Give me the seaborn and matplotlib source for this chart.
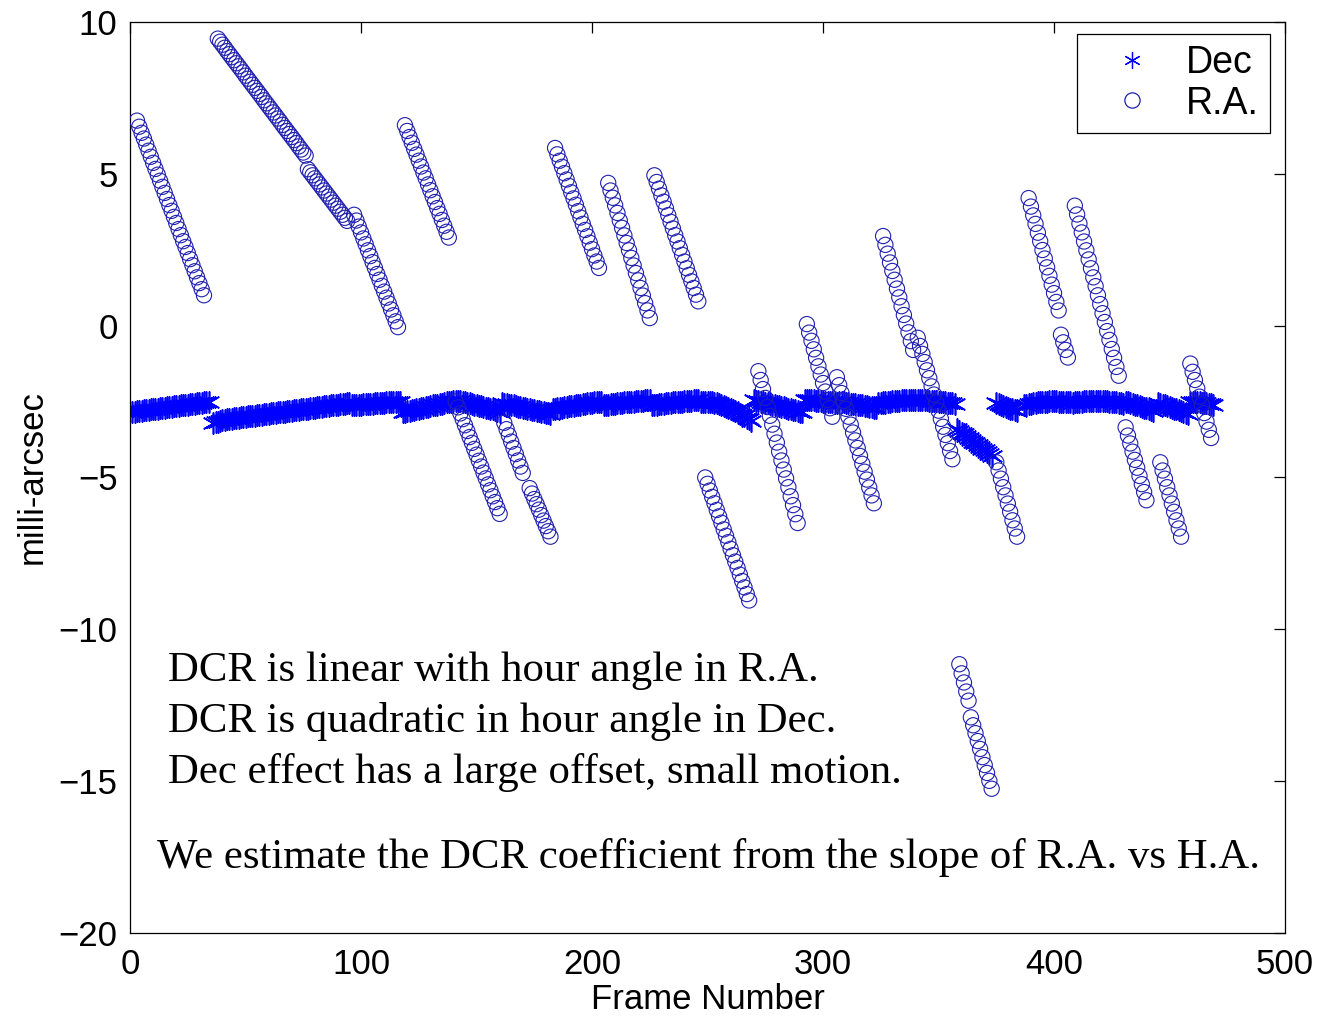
import matplotlib
matplotlib.use("Agg")
import matplotlib.pyplot as plt
from matplotlib.lines import Line2D
import seaborn as sns
import pandas as pd

# ---------------- data ----------------
# R.A. runs: first frame number of each run and the values of consecutive frames
ra_starts = [3, 38, 77, 97, 119, 141, 162, 173, 184, 207, 227, 249,
             272, 293, 306, 326, 341, 359, 364, 375, 389, 403, 409, 431, 446, 459]
ra_runs = [
    [6.75, 6.55, 6.35, 6.16, 5.96, 5.76, 5.56, 5.36, 5.16, 4.97, 4.77, 4.57, 4.37, 4.17, 3.97,
     3.78, 3.58, 3.38, 3.18, 2.98, 2.78, 2.59, 2.39, 2.19, 1.99, 1.79, 1.59, 1.40, 1.20, 1.00],
    [9.45, 9.35, 9.25, 9.15, 9.04, 8.94, 8.84, 8.74, 8.64, 8.54, 8.44, 8.34, 8.23, 8.13, 8.03,
     7.93, 7.83, 7.73, 7.63, 7.53, 7.42, 7.32, 7.22, 7.12, 7.02, 6.92, 6.82, 6.72, 6.61, 6.51,
     6.41, 6.31, 6.21, 6.11, 6.01, 5.90, 5.80, 5.70, 5.60],
    [5.15, 5.05, 4.95, 4.85, 4.75, 4.65, 4.55, 4.45, 4.35, 4.25, 4.15, 4.05, 3.95, 3.85, 3.75,
     3.65, 3.55, 3.45],
    [3.65, 3.46, 3.26, 3.07, 2.87, 2.68, 2.48, 2.29, 2.09, 1.90, 1.70, 1.51, 1.31, 1.12, 0.92,
     0.73, 0.53, 0.34, 0.14, -0.05],
    [6.60, 6.41, 6.21, 6.02, 5.82, 5.63, 5.43, 5.24, 5.04, 4.85, 4.65, 4.46, 4.26, 4.07, 3.87,
     3.68, 3.48, 3.29, 3.09, 2.90],
    [-2.50, -2.69, -2.89, -3.08, -3.28, -3.47, -3.67, -3.86, -4.06, -4.25, -4.45, -4.64, -4.84,
     -5.03, -5.23, -5.42, -5.62, -5.81, -6.01, -6.20],
    [-3.20, -3.41, -3.61, -3.82, -4.03, -4.23, -4.44, -4.64, -4.85],
    [-5.35, -5.53, -5.71, -5.88, -6.06, -6.24, -6.42, -6.60, -6.77, -6.95],
    [5.85, 5.64, 5.43, 5.23, 5.02, 4.81, 4.60, 4.39, 4.19, 3.98, 3.77, 3.56, 3.35, 3.15, 2.94,
     2.73, 2.52, 2.31, 2.11, 1.90],
    [4.70, 4.45, 4.21, 3.96, 3.71, 3.46, 3.22, 2.97, 2.72, 2.48, 2.23, 1.98, 1.73, 1.49, 1.24,
     0.99, 0.74, 0.50, 0.25],
    [4.95, 4.73, 4.51, 4.29, 4.08, 3.86, 3.64, 3.42, 3.20, 2.98, 2.77, 2.55, 2.33, 2.11, 1.89,
     1.67, 1.46, 1.24, 1.02, 0.80],
    [-5.00, -5.21, -5.43, -5.64, -5.85, -6.07, -6.28, -6.49, -6.71, -6.92, -7.13, -7.35, -7.56,
     -7.77, -7.98, -8.20, -8.41, -8.62, -8.84, -9.05],
    [-1.50, -1.79, -2.09, -2.38, -2.68, -2.97, -3.26, -3.56, -3.85, -4.15, -4.44, -4.74, -5.03,
     -5.32, -5.62, -5.91, -6.21, -6.50],
    [0.05, -0.23, -0.50, -0.78, -1.06, -1.34, -1.61, -1.89, -2.17, -2.45, -2.72, -3.00],
    [-1.70, -1.96, -2.22, -2.48, -2.74, -3.00, -3.26, -3.52, -3.78, -4.03, -4.29, -4.55, -4.81,
     -5.07, -5.33, -5.59, -5.85],
    [2.95, 2.66, 2.37, 2.08, 1.80, 1.51, 1.22, 0.93, 0.64, 0.35, 0.07, -0.22, -0.51, -0.80],
    [-0.40, -0.67, -0.93, -1.20, -1.47, -1.73, -2.00, -2.27, -2.53, -2.80, -3.07, -3.33, -3.60,
     -3.87, -4.13, -4.40],
    [-11.15, -11.45, -11.75, -12.05, -12.35],
    [-12.90, -13.16, -13.42, -13.68, -13.94, -14.21, -14.47, -14.73, -14.99, -15.25],
    [-4.50, -4.77, -5.04, -5.32, -5.59, -5.86, -6.13, -6.41, -6.68, -6.95],
    [4.20, 3.92, 3.63, 3.35, 3.06, 2.78, 2.49, 2.21, 1.92, 1.64, 1.35, 1.07, 0.78, 0.50],
    [-0.30, -0.55, -0.80, -1.05],
    [3.95, 3.66, 3.36, 3.07, 2.77, 2.48, 2.18, 1.89, 1.59, 1.30, 1.00, 0.71, 0.41, 0.12, -0.18,
     -0.47, -0.77, -1.06, -1.36, -1.65],
    [-3.35, -3.62, -3.88, -4.15, -4.42, -4.68, -4.95, -5.22, -5.48, -5.75],
    [-4.50, -4.77, -5.04, -5.32, -5.59, -5.86, -6.13, -6.41, -6.68, -6.95],
    [-1.25, -1.52, -1.79, -2.07, -2.34, -2.61, -2.88, -3.16, -3.43, -3.70],
]

# Dec runs
dec_starts = [1, 36, 96, 118, 140, 161, 183, 205, 226, 247, 270, 292, 307, 324, 341,
              358, 375, 387, 408, 431, 445, 459]
dec_runs = [
    [-2.85, -2.83, -2.82, -2.81, -2.80, -2.79, -2.78, -2.77, -2.76, -2.75, -2.74, -2.73, -2.72,
     -2.71, -2.70, -2.69, -2.68, -2.67, -2.66, -2.65, -2.64, -2.63, -2.62, -2.61, -2.60, -2.59,
     -2.58, -2.57, -2.56, -2.55, -2.54, -2.53, -2.52, -2.51],
    [-3.20, -3.18, -3.16, -3.14, -3.12, -3.10, -3.08, -3.07, -3.06, -3.05,
     -3.04, -3.03, -3.02, -3.01, -3.00, -2.99, -2.98, -2.97, -2.96, -2.95, -2.94, -2.93,
     -2.92, -2.91, -2.90, -2.89, -2.88, -2.87, -2.86, -2.85, -2.84, -2.83, -2.82, -2.81,
     -2.80, -2.79, -2.78, -2.77, -2.76, -2.75, -2.74, -2.73, -2.72, -2.71, -2.70, -2.69,
     -2.68, -2.67, -2.66, -2.65, -2.64, -2.63, -2.62, -2.61, -2.60, -2.59, -2.58, -2.57,
     -2.56, -2.55],
    [-2.62, -2.61, -2.61, -2.60, -2.60, -2.59, -2.58, -2.58, -2.57, -2.57, -2.56, -2.55, -2.55,
     -2.54, -2.54, -2.53, -2.52, -2.52, -2.51, -2.51, -2.50, -2.50],
    [-2.85, -2.83, -2.82, -2.80, -2.78, -2.77, -2.75, -2.73, -2.72, -2.70, -2.68, -2.67, -2.65,
     -2.63, -2.62, -2.60, -2.58, -2.57, -2.55, -2.53, -2.52, -2.50],
    [-2.48, -2.47, -2.47, -2.48, -2.50, -2.52, -2.54, -2.56, -2.58, -2.60, -2.62, -2.64, -2.66,
     -2.68, -2.70, -2.72, -2.74, -2.76, -2.79, -2.82, -2.85],
    [-2.55, -2.57, -2.58, -2.60, -2.62, -2.63, -2.65, -2.67, -2.68, -2.70, -2.72, -2.73, -2.75,
     -2.77, -2.78, -2.80, -2.82, -2.83, -2.85, -2.87, -2.88, -2.90],
    [-2.75, -2.74, -2.72, -2.71, -2.70, -2.69, -2.67, -2.66, -2.65, -2.64, -2.62, -2.61, -2.60,
     -2.59, -2.57, -2.56, -2.55, -2.54, -2.53, -2.52, -2.51, -2.50],
    [-2.62, -2.61, -2.60, -2.59, -2.58, -2.57, -2.56, -2.55, -2.54, -2.53, -2.53, -2.52, -2.51,
     -2.50, -2.49, -2.49, -2.48, -2.47, -2.46, -2.46, -2.45],
    [-2.62, -2.61, -2.60, -2.59, -2.58, -2.57, -2.56, -2.55, -2.54, -2.53, -2.52, -2.51, -2.50,
     -2.50, -2.49, -2.48, -2.47, -2.47, -2.46, -2.46, -2.45],
    [-2.52, -2.51, -2.50, -2.50, -2.51, -2.52, -2.54, -2.56, -2.58, -2.61, -2.64, -2.67, -2.70,
     -2.74, -2.78, -2.82, -2.86, -2.90, -2.94, -2.98, -3.03, -3.08, -3.13],
    [-2.45, -2.47, -2.48, -2.50, -2.52, -2.54, -2.56, -2.58, -2.60, -2.62, -2.64, -2.65, -2.67,
     -2.69, -2.71, -2.73, -2.75, -2.77, -2.79, -2.81, -2.83, -2.85],
    [-2.45, -2.45, -2.45, -2.46, -2.46, -2.47, -2.48, -2.49, -2.50, -2.51, -2.52, -2.52, -2.53,
     -2.54, -2.55],
    [-2.50, -2.51, -2.53, -2.54, -2.55, -2.57, -2.58, -2.59, -2.61, -2.62, -2.63, -2.65, -2.66,
     -2.67, -2.69, -2.70, -2.72],
    [-2.55, -2.54, -2.53, -2.52, -2.51, -2.50, -2.49, -2.48, -2.47, -2.47, -2.46, -2.46, -2.45,
     -2.45, -2.45, -2.45, -2.46],
    [-2.45, -2.45, -2.45, -2.46, -2.46, -2.47, -2.47, -2.48, -2.49, -2.50, -2.51, -2.52, -2.53,
     -2.54, -2.55, -2.56, -2.57],
    [-3.40, -3.46, -3.52, -3.58, -3.64, -3.70, -3.76, -3.82, -3.88, -3.93, -3.99, -4.05, -4.11,
     -4.17, -4.23, -4.29],
    [-2.55, -2.58, -2.61, -2.64, -2.67, -2.70, -2.73, -2.76, -2.79, -2.82],
    [-2.62, -2.60, -2.58, -2.57, -2.55, -2.54, -2.53, -2.52, -2.51, -2.50, -2.50, -2.49, -2.49,
     -2.49, -2.49, -2.50, -2.50, -2.51, -2.51, -2.52, -2.53],
    [-2.55, -2.53, -2.52, -2.51, -2.50, -2.49, -2.48, -2.48, -2.47, -2.47, -2.47, -2.47, -2.47,
     -2.48, -2.48, -2.49, -2.50, -2.51, -2.52, -2.53, -2.54, -2.56, -2.58],
    [-2.50, -2.52, -2.55, -2.57, -2.60, -2.62, -2.65, -2.67, -2.70, -2.72, -2.75, -2.77, -2.80],
    [-2.55, -2.58, -2.60, -2.63, -2.66, -2.68, -2.71, -2.74, -2.76, -2.79, -2.82, -2.84, -2.87,
     -2.90],
    [-2.50, -2.50, -2.51, -2.52, -2.53, -2.54, -2.55, -2.56, -2.57, -2.58, -2.60],
]

x_ticks = [0, 100, 200, 300, 400, 500]
y_ticks = [-20, -15, -10, -5, 0, 5, 10]
notes = ["DCR is linear with hour angle in R.A.",
         "DCR is quadratic in hour angle in Dec.",
         "Dec effect has a large offset, small motion."]
conclusion = "We estimate the DCR coefficient from the slope of R.A. vs H.A."


def to_frame(starts, runs):
    fr, vals = [], []
    for s, run in zip(starts, runs):
        for i, v in enumerate(run):
            fr.append(s + i)
            vals.append(v)
    return pd.DataFrame({"frame": fr, "value": vals})


dec_df = to_frame(dec_starts, dec_runs)
ra_df = to_frame(ra_starts, ra_runs)

# ---------------- style ----------------
sns.set_style("white")
plt.rcParams["font.family"] = ["Liberation Sans", "DejaVu Sans"]
plt.rcParams["axes.unicode_minus"] = True
plt.rcParams["text.color"] = "black"
plt.rcParams["axes.labelcolor"] = "black"
plt.rcParams["xtick.color"] = "black"
plt.rcParams["ytick.color"] = "black"

fig = plt.figure(figsize=(13.23, 10.21), dpi=100)
ax = fig.add_axes([0.0983, 0.0862, 0.873, 0.8923])

blue = "#0000ff"
circ_blue = "#2020b0"
star = (6, 2, 0)

sns.scatterplot(data=dec_df, x="frame", y="value", ax=ax, marker=star,
                s=230, color=blue, linewidth=1.2, legend=False, zorder=2)
sns.scatterplot(data=ra_df, x="frame", y="value", ax=ax, marker="o",
                s=120, facecolor="none", edgecolor=circ_blue, color=circ_blue,
                linewidth=0.8, legend=False, zorder=3)

ax.set_xlim(0, 500)
ax.set_ylim(-20, 10)
ax.set_xticks(x_ticks)
ax.set_yticks(y_ticks)
ax.tick_params(direction="in", length=8, width=0.9, top=True, right=True,
               labelsize=25, colors="black", labelcolor="black")
ax.tick_params(axis="x", pad=11)
ax.tick_params(axis="y", pad=9)
for sp in ax.spines.values():
    sp.set_visible(True)
    sp.set_color("black")
    sp.set_linewidth(0.9)
ax.set_xlabel("Frame Number", fontsize=25, labelpad=1, color="black")
ax.set_ylabel("milli-arcsec", fontsize=25, labelpad=7, color="black")

for i, t in enumerate(notes):
    ax.text(16.5, -11.35 - 1.69 * i, t, fontsize=30.8, family="Liberation Serif",
            ha="left", va="center", color="black")
ax.text(11.7, -17.5, conclusion, fontsize=30.8, family="Liberation Serif",
        ha="left", va="center", color="black")

handles = [
    Line2D([], [], linestyle="none", marker=star, markersize=12, color=blue,
           markeredgewidth=0.9),
    Line2D([], [], linestyle="none", marker="o", markersize=11,
           markerfacecolor="none", markeredgecolor=circ_blue, markeredgewidth=0.9),
]
leg = ax.legend(handles, ["Dec", "R.A."], loc="upper right",
                bbox_to_anchor=(0.987, 0.987), borderaxespad=0, fontsize=27,
                frameon=True, fancybox=False, edgecolor="black", framealpha=1,
                handlelength=2.3, handletextpad=0.3, labelspacing=0.12,
                borderpad=0.3)
leg.get_frame().set_linewidth(0.9)
for t in leg.get_texts():
    t.set_color("black")

fig.savefig("out.png", dpi=100, facecolor="white")
